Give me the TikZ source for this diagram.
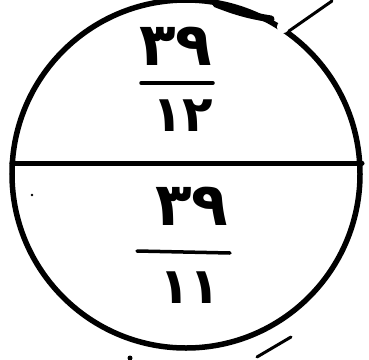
\documentclass[tikz,border=0pt]{standalone}
\usepackage{fontspec}
\newfontfamily\arabicfont[Script=Arabic]{DejaVu Sans}
\usetikzlibrary{positioning, calc}

\tikzset{
  stroke/.style={line width=5pt, line cap=round},
  digits/.style={inner sep=0pt, font=\arabicfont\bfseries\fontsize{60}{64}\selectfont},
  smalldigits/.style={inner sep=0pt, font=\arabicfont\bfseries\fontsize{50}{54}\selectfont},
  bar/.style={line width=3.5pt, line cap=round}
}

\begin{document}
\begin{tikzpicture}[x=1pt, y=-1pt]
  \useasboundingbox (0,0) rectangle (369,359);
  \clip (0,0) rectangle (369,359);

  % circle and diameter
  \node[circle, minimum size=348pt, inner sep=0pt] (disc) at (186,174) {};
  \draw[line width=5.5pt] (disc.center) circle (174pt);
  \draw[stroke] (disc.west |- 0,163) -- (362,163);

  % upper fraction
  \node[digits] (num1) at (176,46) {٣٩};
  \node[smalldigits] (den1) at (183,116) {١٢};
  \coordinate (bar1a) at (141,83);
  \coordinate (bar1b) at (213,83);
  \draw[bar] (bar1a) -- (bar1b);

  % lower fraction
  \node[digits] (num2) at (192,206) {٣٩};
  \node[smalldigits] (den2) at (190,288) {١١};
  \coordinate (bar2a) at (137,251);
  \coordinate (bar2b) at (230,253);
  \draw[bar] (bar2a) -- (bar2b);

  % stray pen marks
  \fill[white] (283,27) circle (6pt);
  \coordinate (tick1a) at (289,31);
  \coordinate (tick1b) at (332,1);
  \draw[line width=3pt, line cap=round] (tick1a) -- (tick1b);
  \coordinate (tick2a) at (216,4);
  \coordinate (tick2b) at (271,19);
  \draw[line width=7pt, line cap=round] (tick2a) to[bend right=6] (tick2b);
  \coordinate (tick3a) at (257,357);
  \coordinate (tick3b) at (291,337);
  \draw[line width=3pt, line cap=round] (tick3a) -- (tick3b);
  \fill (130,358) circle (2.5pt);
  \fill (32,195) circle (1.3pt);
\end{tikzpicture}
\end{document}
